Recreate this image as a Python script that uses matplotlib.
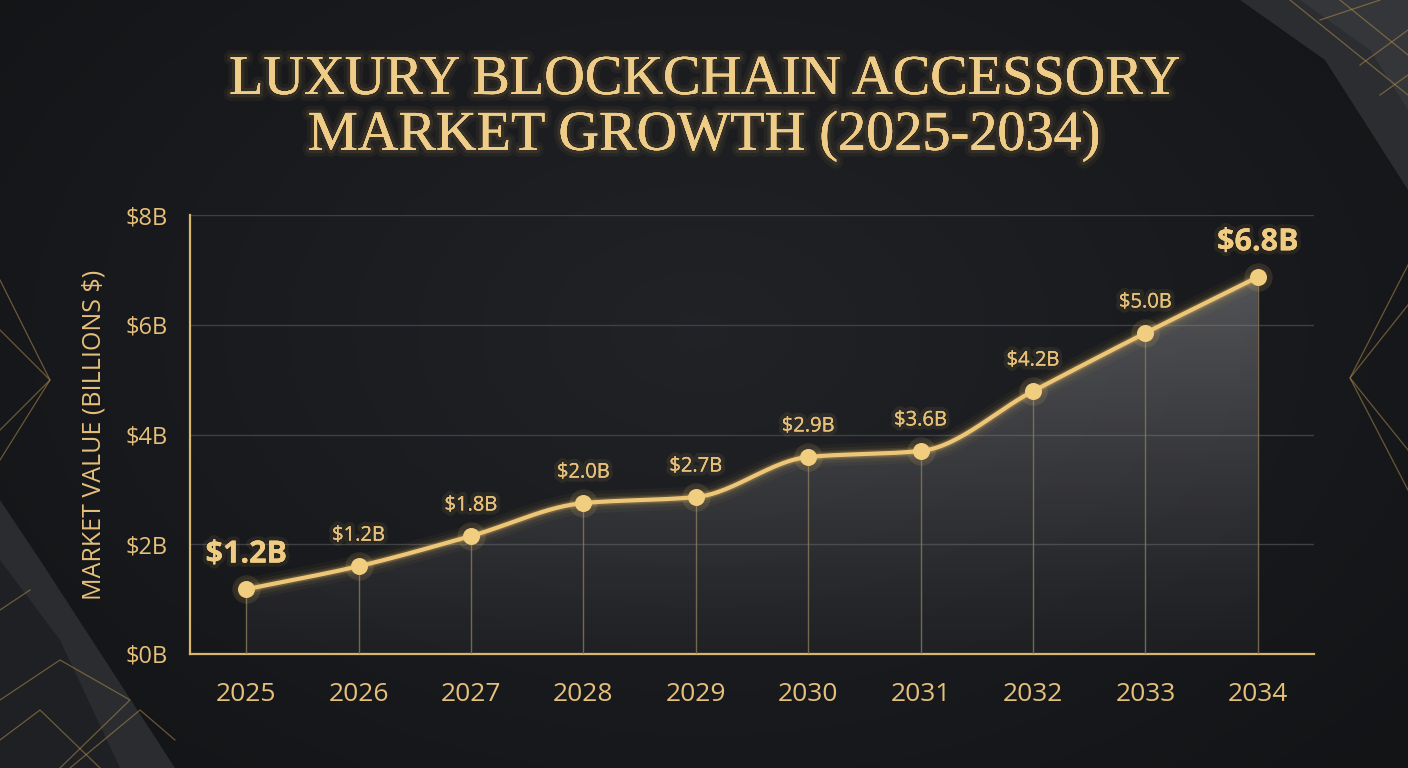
import numpy as np
import matplotlib.pyplot as plt
from matplotlib.patches import Polygon
import matplotlib.patheffects as pe

# dados
anos = ['2025', '2026', '2027', '2028', '2029', '2030', '2031', '2032', '2033', '2034']
valores = [1.18, 1.6, 2.15, 2.75, 2.86, 3.59, 3.7, 4.79, 5.85, 6.87]
rotulos = ['$1.2B', '$1.2B', '$1.8B', '$2.0B', '$2.7B', '$2.9B', '$3.6B', '$4.2B', '$5.0B', '$6.8B']
ticks_y = [0, 2, 4, 6, 8]
ticks_y_txt = ['$0B', '$2B', '$4B', '$6B', '$8B']

OURO = '#eec677'
OURO_TXT = '#e6c07a'
FUNDO = '#15171b'


def curva_suave(x, y, n=30):
    # hermite monotona (Fritsch-Carlson) so pra desenhar a linha
    x = np.asarray(x, float)
    y = np.asarray(y, float)
    h = np.diff(x)
    d = np.diff(y) / h
    m = np.zeros_like(y)
    m[0], m[-1] = d[0], d[-1]
    for i in range(1, len(y) - 1):
        if d[i - 1] * d[i] <= 0:
            m[i] = 0
        else:
            m[i] = 2 / (1 / d[i - 1] + 1 / d[i])
    xs, ys = [], []
    for i in range(len(x) - 1):
        t = np.linspace(0, 1, n, endpoint=False)
        h00 = 2 * t**3 - 3 * t**2 + 1
        h10 = t**3 - 2 * t**2 + t
        h01 = -2 * t**3 + 3 * t**2
        h11 = t**3 - t**2
        xs.append(x[i] + t * h[i])
        ys.append(h00 * y[i] + h10 * h[i] * m[i] + h01 * y[i + 1] + h11 * h[i] * m[i + 1])
    xs.append([x[-1]])
    ys.append([y[-1]])
    return np.concatenate(xs), np.concatenate(ys)


fig = plt.figure(figsize=(14.08, 7.68), dpi=100)
fig.patch.set_facecolor(FUNDO)

# === FUNDO ===
bg = fig.add_axes([0, 0, 1, 1], zorder=-5)
bg.set_xlim(0, 1408)
bg.set_ylim(768, 0)
bg.axis('off')
yy, xx = np.mgrid[0:768:4, 0:1408:4]
r = np.sqrt(((xx - 700) / 900) ** 2 + ((yy - 330) / 600) ** 2)
grad = np.clip(1 - r, 0, 1)
base = np.array([0.075, 0.08, 0.09])
top = np.array([0.13, 0.135, 0.15])
img = base + (top - base) * grad[..., None]
bg.imshow(img, extent=(0, 1408, 768, 0), aspect='auto', zorder=0)

# paineis nos cantos
bg.add_patch(Polygon([(0, 500), (40, 560), (175, 768), (0, 768)], closed=True,
                     facecolor='#2a2c30', edgecolor='none', zorder=1))
bg.add_patch(Polygon([(0, 560), (60, 640), (120, 768), (0, 768)], closed=True,
                     facecolor='#1e2024', edgecolor='none', zorder=1))
bg.add_patch(Polygon([(1240, 0), (1325, 60), (1408, 190), (1408, 0)], closed=True,
                     facecolor='#2b2d31', edgecolor='none', zorder=1))
bg.add_patch(Polygon([(1300, 0), (1370, 50), (1408, 110), (1408, 0)], closed=True,
                     facecolor='#34363a', edgecolor='none', zorder=1))
linhas_deco = [
    [(0, 280), (50, 380), (0, 460)],
    [(0, 330), (50, 380), (0, 430)],
    [(1408, 265), (1350, 378), (1408, 490)],
    [(1408, 305), (1350, 378), (1408, 450)],
    [(0, 700), (60, 660), (130, 700), (60, 768)],
    [(0, 740), (40, 710), (100, 768)],
    [(0, 610), (30, 590)],
    [(70, 768), (140, 710), (175, 740)],
    [(1290, 0), (1408, 95)],
    [(1340, 0), (1408, 55)],
    [(1360, 65), (1408, 30)],
    [(1380, 95), (1408, 75)],
    [(1320, 20), (1380, 0)],
]
for seg in linhas_deco:
    sx, sy = zip(*seg)
    bg.plot(sx, sy, color='#b08d4c', lw=0.9, alpha=0.55, zorder=2)

# === TITULO ===
titulo = ['LUXURY BLOCKCHAIN ACCESSORY', 'MARKET GROWTH (2025-2034)']
glow = [pe.withStroke(linewidth=10, foreground=(0.95, 0.78, 0.4, 0.05)),
        pe.withStroke(linewidth=5, foreground=(0.95, 0.78, 0.4, 0.08)),
        pe.Normal()]
for i, t in enumerate(titulo):
    fig.text(0.5, 1 - (80 + 56 * i) / 768, t, ha='center', va='center',
             fontsize=40.5, family='Liberation Serif', color='#efcd88',
             path_effects=glow)

# === GRAFICO ===
ax = fig.add_axes([190 / 1408, 1 - 654 / 768, (1314 - 190) / 1408, (654 - 215) / 768])
ax.set_facecolor('none')
x = np.arange(len(anos))
ax.set_xlim(-0.5, len(anos) - 0.5)
ax.set_ylim(0, 8)

for v in ticks_y[1:]:
    ax.axhline(v, color='#3e4045', lw=1.0, zorder=1)

xs, ys = curva_suave(x, valores)

# area com gradiente
poly = np.column_stack([np.r_[xs, xs[-1], xs[0]], np.r_[ys, 0, 0]])
grad_area = np.linspace(1, 0, 200)[:, None]
cinza = np.zeros((200, 2, 4))
cinza[..., 0] = 0.58
cinza[..., 1] = 0.58
cinza[..., 2] = 0.59
cinza[..., 3] = 0.06 + 0.42 * grad_area ** 1.2
im = ax.imshow(cinza, extent=(xs[0], xs[-1], 0, max(valores)), aspect='auto',
               origin='upper', zorder=2)
im.set_clip_path(Polygon(poly, closed=True, transform=ax.transData))

# linhas verticais
for xi, vi in zip(x, valores):
    ax.plot([xi, xi], [0, vi], color='#8a7a5c', lw=1.0, alpha=0.8, zorder=3)

# brilho da linha
for lw, a in [(16, 0.035), (11, 0.06), (7, 0.1), (5, 0.18)]:
    ax.plot(xs, ys, color='#f5c96a', lw=lw, alpha=a, solid_capstyle='round', zorder=4)
ax.plot(xs, ys, color=OURO, lw=3, solid_capstyle='round', zorder=5)
ax.scatter(x, valores, s=420, color='#f5c96a', alpha=0.12, zorder=5, linewidths=0)
ax.scatter(x, valores, s=150, color='#f1cd80', zorder=6, linewidths=0)

# rotulos dos valores
for i, (xi, vi, txt) in enumerate(zip(x, valores, rotulos)):
    destaque = i in (0, len(anos) - 1)
    ax.annotate(txt, (xi, vi), xytext=(0, 25 if destaque else 22),
                textcoords='offset points', ha='center', va='center',
                fontsize=22 if destaque else 14.5,
                fontweight='bold' if destaque else 'normal',
                family='Open Sans', color='#f0cb82' if destaque else OURO_TXT,
                path_effects=[pe.withStroke(linewidth=6, foreground=(0.95, 0.78, 0.4, 0.08)),
                              pe.Normal()],
                zorder=7)

# eixos
for lado in ['top', 'right']:
    ax.spines[lado].set_visible(False)
for lado in ['left', 'bottom']:
    ax.spines[lado].set_color('#d9b56e')
    ax.spines[lado].set_linewidth(1.6)
ax.set_xticks(x)
ax.set_xticklabels(anos, fontsize=19, family='Open Sans', color=OURO_TXT)
ax.set_yticks(ticks_y)
ax.set_yticklabels(ticks_y_txt, fontsize=17, family='Open Sans', color=OURO_TXT)
ax.tick_params(length=0)
ax.tick_params(axis='x', pad=20)
ax.tick_params(axis='y', pad=16)
ax.set_ylabel('MARKET VALUE (BILLIONS $)', fontsize=18, family='Open Sans',
              color=OURO_TXT, labelpad=14)

plt.savefig('out.png', dpi=100, facecolor=fig.get_facecolor())
